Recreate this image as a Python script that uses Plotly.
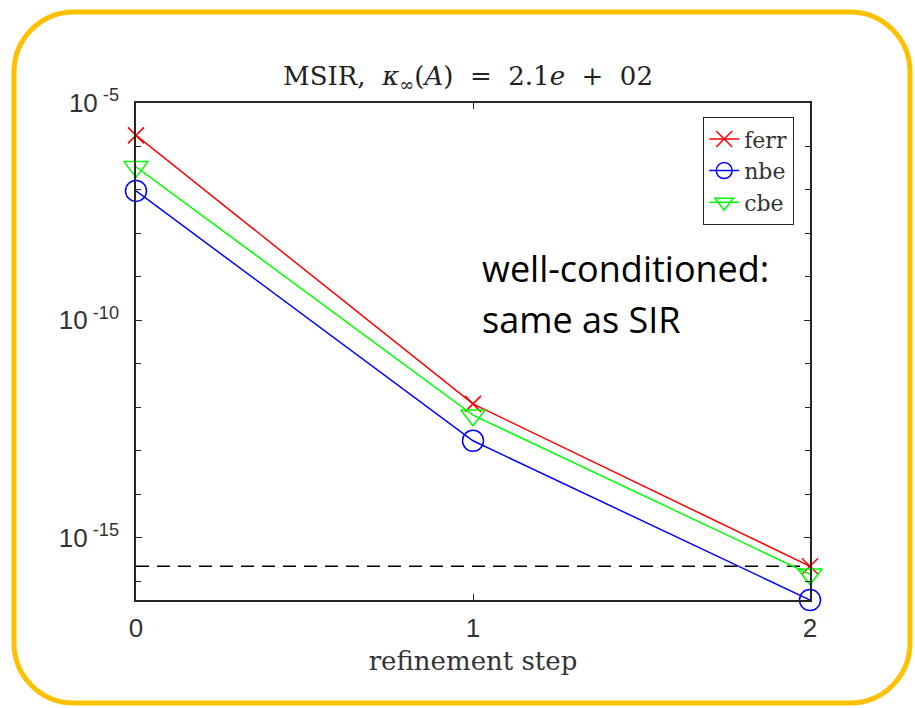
import plotly.graph_objects as go
import math

# ---- data ----
steps = [0, 1, 2]
tick_labels_x = ["0", "1", "2"]
ferr = [1.8e-6, 1.2e-12, 2.2e-16]
nbe = [9.5e-8, 1.7e-13, 3.7e-17]
cbe = [3.4e-7, 6.6e-13, 1.45e-16]
eps_level = [2.22e-16, 2.22e-16]
eps_x = [0, 2]
y_minor_exps = list(range(-5, -17, -1))
y_label_exps = [-5, -10, -15]
y_labels = ["10<sup> -5</sup>", "10<sup> -10</sup>", "10<sup> -15</sup>"]

# ---- layout geometry ----
W_FIG, H_FIG = 915, 708
L, R, T, B = 136, 105, 103, 108
PW = W_FIG - L - R
PH = H_FIG - T - B

def px(x):
    return (x - L) / PW

def py(y):
    return (H_FIG - B - y) / PH

fig = go.Figure()

fig.add_trace(go.Scatter(x=eps_x, y=eps_level, mode="lines",
                         line=dict(color="black", width=1.5, dash="13px,8px"),
                         showlegend=False, hoverinfo="skip"))
fig.add_trace(go.Scatter(x=steps, y=ferr, name="ferr", mode="lines+markers",
                         line=dict(color="#FF0000", width=1.5),
                         marker=dict(symbol="x-thin-open", size=16,
                                     line=dict(color="#FF0000", width=1.5)),
                         cliponaxis=False))
fig.add_trace(go.Scatter(x=steps, y=nbe, name="nbe", mode="lines+markers",
                         line=dict(color="#0000FF", width=1.5),
                         marker=dict(symbol="circle-open", size=21,
                                     line=dict(color="#0000FF", width=1.5)),
                         cliponaxis=False))
fig.add_trace(go.Scatter(x=steps, y=cbe, name="cbe", mode="lines+markers",
                         line=dict(color="#00FF00", width=1.5),
                         marker=dict(symbol="triangle-down-open", size=21,
                                     line=dict(color="#00FF00", width=1.5)),
                         cliponaxis=False))

all_vals = ferr + nbe + cbe
ymin = math.log10(min(all_vals))

axis_col = "#262626"
tick_font = dict(family="Liberation Sans, Arial, sans-serif", size=26, color="#333333")
serif = "DejaVu Serif, serif"

fig.update_xaxes(range=[0, 2], tickvals=steps, ticktext=tick_labels_x,
                 showgrid=False, zeroline=False, showline=True, linecolor=axis_col,
                 linewidth=1.5, mirror="ticks", ticks="inside", ticklen=6,
                 tickcolor=axis_col, tickwidth=1.2, tickfont=tick_font,
                 ticklabelstandoff=4,
                 title=dict(text="refinement step",
                            font=dict(family=serif, size=26, color="#333333"),
                            standoff=10))

fig.update_yaxes(type="log", range=[ymin, -5],
                 tickvals=[10.0 ** e for e in y_label_exps],
                 ticktext=y_labels,
                 minor=dict(tickvals=[10.0 ** e for e in y_minor_exps],
                            ticks="inside", ticklen=5, tickcolor=axis_col,
                            tickwidth=1.2, showgrid=False),
                 showgrid=False, zeroline=False, showline=True, linecolor=axis_col,
                 linewidth=1.5, mirror="ticks", ticks="inside", ticklen=6,
                 tickcolor=axis_col, tickwidth=1.2, tickfont=tick_font,
                 ticklabelstandoff=10)

# rounded border (pixel -> paper)
x0, y0, x1, y1, r = 14, 12, 910, 703, 60
k = 0.5523 * r
pts = [
    ("M", [(x0 + r, y0)]),
    ("L", [(x1 - r, y0)]),
    ("C", [(x1 - r + k, y0), (x1, y0 + r - k), (x1, y0 + r)]),
    ("L", [(x1, y1 - r)]),
    ("C", [(x1, y1 - r + k), (x1 - r + k, y1), (x1 - r, y1)]),
    ("L", [(x0 + r, y1)]),
    ("C", [(x0 + r - k, y1), (x0, y1 - r + k), (x0, y1 - r)]),
    ("L", [(x0, y0 + r)]),
    ("C", [(x0, y0 + r - k), (x0 + r - k, y0), (x0 + r, y0)]),
]
path = ""
for cmd, ps in pts:
    path += cmd + " " + " ".join("%.5f,%.5f" % (px(a), py(b)) for a, b in ps) + " "
path += "Z"
fig.add_shape(type="path", xref="paper", yref="paper", path=path,
              line=dict(color="#FFC000", width=5), layer="above")

ann_font = dict(family="Open Sans, sans-serif", size=36, color="black")
fig.add_annotation(text="well-conditioned:", xref="paper", yref="paper",
                   x=px(480), y=py(268), xanchor="left", yanchor="middle",
                   showarrow=False, font=ann_font)
fig.add_annotation(text="same as SIR", xref="paper", yref="paper",
                   x=px(480), y=py(319), xanchor="left", yanchor="middle",
                   showarrow=False, font=ann_font)

fig.update_layout(
    width=W_FIG, height=H_FIG,
    margin=dict(l=L, r=R, t=T, b=B),
    paper_bgcolor="white", plot_bgcolor="white",
    title=dict(text="MSIR,  <i>κ</i><sub>∞</sub>(<i>A</i>)  =  2.1<i>e</i>  +  02",
               xref="container", x=468 / W_FIG, xanchor="center",
               y=1 - 76 / H_FIG, yanchor="middle",
               font=dict(family=serif, size=26, color="#222222")),
    legend=dict(x=px(794), y=py(117), xanchor="right", yanchor="top",
                bordercolor=axis_col, borderwidth=1.2, bgcolor="white",
                font=dict(family=serif, size=22, color="#333333"),
                itemwidth=30, tracegroupgap=0),
    showlegend=True,
)

fig.write_html("out.html", config={"displayModeBar": False},
               post_script="document.body.style.margin='0';document.body.style.padding='0';document.body.style.overflow='hidden';")
